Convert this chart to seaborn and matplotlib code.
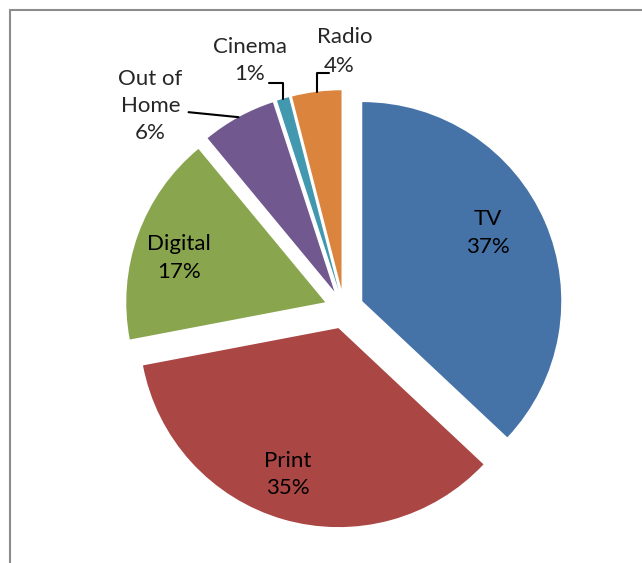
import numpy as np
import matplotlib
matplotlib.use("Agg")
import matplotlib.pyplot as plt
import seaborn as sns

categories = ["TV", "Print", "Digital", "Out of\nHome", "Cinema", "Radio"]
shares = [37, 35, 17, 6, 1, 4]
colors = ["#4572A7", "#AA4643", "#89A54E", "#71588F", "#4198AF", "#DB843D"]

sns.set_theme(style="white")
plt.rcParams['font.family'] = ['Lato', 'DejaVu Sans']

W, H, DPI = 642, 563, 100
fig = plt.figure(figsize=(W / DPI, H / DPI), dpi=DPI)
ax = fig.add_axes([0, 0, 1, 1])
R_PX = 199.0
cx, cy = 344.0, 309.0  # pie centre in pixels from top-left
ax.axis("off")

explode = [0.1] * len(shares)
wedges, _ = ax.pie(shares, colors=colors, startangle=90, counterclock=False,
                   explode=explode, radius=1.0, center=(0, 0),
                   wedgeprops=dict(linewidth=0))
ax.set_aspect("equal")
ax.set_xlim(-cx / R_PX, (W - cx) / R_PX)
ax.set_ylim(-(H - cy) / R_PX, cy / R_PX)

fs = 16
ls = 1.45
def wedge_info(w):
    mid = np.deg2rad((w.theta1 + w.theta2) / 2)
    c = np.array(w.center)
    d = np.array([np.cos(mid), np.sin(mid)])
    return c, d

pcts = [f"{s}%" for s in shares]
# inside labels
inside_dist = [0.72, 0.78, 0.77]
inside_rot = [5, -3, 3]  # small angular nudges (degrees)
for i in range(3):
    c, _ = wedge_info(wedges[i])
    w = wedges[i]
    mid = np.deg2rad((w.theta1 + w.theta2) / 2 + inside_rot[i])
    p = c + inside_dist[i] * np.array([np.cos(mid), np.sin(mid)])
    ax.text(p[0], p[1], f"{categories[i]}\n{pcts[i]}", ha="center", va="center",
            fontsize=fs, color="black", linespacing=ls)

lw = 1.5
px = 1 / R_PX
# Out of Home
c, d = wedge_info(wedges[3])
arc = c + d
start = np.array([arc[0] - 50 * px, arc[1] + 5 * px])
ax.plot([start[0], arc[0]], [start[1], arc[1]], color="black", lw=lw)
ax.text(start[0] - 38 * px, start[1] + 6 * px, f"{categories[3]}\n{pcts[3]}",
        ha="center", va="center", fontsize=fs, linespacing=ls)
# Cinema
c, d = wedge_info(wedges[4])
arc = c + d
elbow = np.array([arc[0], arc[1] + 16 * px])
end = np.array([arc[0] - 14 * px, elbow[1]])
ax.plot([arc[0], elbow[0], end[0]], [arc[1], elbow[1], end[1]], color="black", lw=lw)
ax.text(end[0] - 19 * px, end[1] + 22 * px, f"{categories[4]}\n{pcts[4]}",
        ha="center", va="center", fontsize=fs, linespacing=ls)
# Radio
c, d = wedge_info(wedges[5])
arc = c + d
elbow = np.array([arc[0], arc[1] + 19 * px])
end = np.array([arc[0] + 12 * px, elbow[1]])
ax.plot([arc[0], elbow[0], end[0]], [arc[1], elbow[1], end[1]], color="black", lw=lw)
ax.text(end[0] + 16 * px, end[1] + 36 * px, categories[5],
        ha="center", va="center", fontsize=fs)
ax.text(end[0] + 11 * px, end[1] + 7 * px, pcts[5],
        ha="center", va="center", fontsize=fs)

# chart frame (left and top edges visible)
fig.add_artist(plt.Line2D([9.5 / W, 9.5 / W], [0, 1 - 9.5 / H], color="#8c8c8c", lw=1.5,
                          transform=fig.transFigure))
fig.add_artist(plt.Line2D([9.5 / W, 1], [1 - 9.5 / H, 1 - 9.5 / H], color="#8c8c8c", lw=1.5,
                          transform=fig.transFigure))

fig.savefig("out.png", dpi=DPI)
